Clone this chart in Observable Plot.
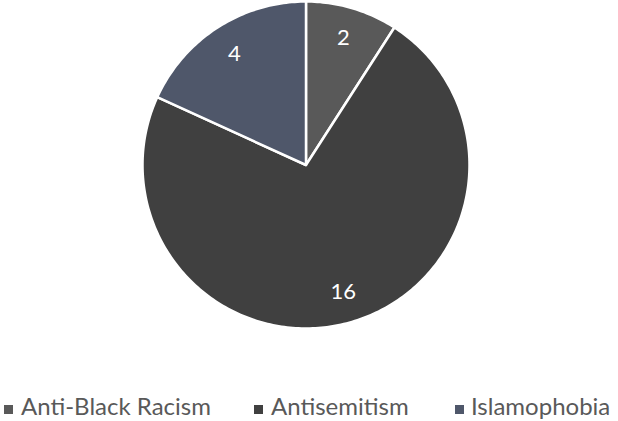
<!DOCTYPE html>
<html><head><meta charset="utf-8">
<script src="https://cdn.jsdelivr.net/npm/d3@7"></script>
<script src="https://cdn.jsdelivr.net/npm/@observablehq/plot@0.6"></script>
<style>
body{margin:0;background:#fff;font-family:Lato,"Open Sans",sans-serif}
#wrap{position:relative;width:618px;height:421px;overflow:hidden}
#legend{position:absolute;left:0;top:392px;width:618px;height:29px}
.item{position:absolute;top:0;font-size:24px;line-height:1.2;color:#595959;white-space:nowrap}
.sw{position:absolute;top:13px;width:9px;height:9px}
</style>
</head><body>
<div id="wrap"><div id="chart"></div><div id="legend"></div></div>
<script>
const categories = ["Anti-Black Racism", "Antisemitism", "Islamophobia"];
const values = [2, 16, 4];
const colors = ["#595959", "#404040", "#4f576a"];
const legendSwatchX = [4, 254, 455];
const legendTextX = [21, 271, 471];

const data = categories.map((c, i) => ({cat: c, value: values[i]}));
const arcs = d3.pie().sort(null).value(d => d.value)(data);

const points = [];
const labels = [];
arcs.forEach(a => {
  const cat = a.data.cat;
  const steps = Math.max(2, Math.ceil((a.endAngle - a.startAngle) / (Math.PI / 180)));
  points.push({cat, x: 0, y: 0});
  for (let i = 0; i <= steps; i++) {
    const t = a.startAngle + (a.endAngle - a.startAngle) * i / steps;
    points.push({cat, x: Math.sin(t), y: Math.cos(t)});
  }
  points.push({cat, x: 0, y: 0});
  const mid = (a.startAngle + a.endAngle) / 2;
  labels.push({cat, x: 0.81 * Math.sin(mid), y: 0.81 * Math.cos(mid), text: String(a.data.value)});
});

const chart = Plot.plot({
  width: 618,
  height: 330,
  marginLeft: 142,
  marginRight: 149,
  marginTop: 1,
  marginBottom: 2,
  style: {background: "white", fontFamily: "Lato, Open Sans, sans-serif"},
  x: {domain: [-1, 1], axis: null},
  y: {domain: [-1, 1], axis: null},
  color: {domain: categories, range: colors},
  marks: [
    Plot.line(points, {x: "x", y: "y", z: "cat", fill: "cat", stroke: "white", strokeWidth: 2.5, strokeLinejoin: "round"}),
    Plot.text(labels, {x: "x", y: "y", text: "text", fill: "white", fontSize: 22})
  ]
});
document.getElementById("chart").appendChild(chart);

const legend = document.getElementById("legend");
categories.forEach((c, i) => {
  const sw = document.createElement("div");
  sw.className = "sw";
  sw.style.left = legendSwatchX[i] + "px";
  sw.style.background = colors[i];
  legend.appendChild(sw);
  const item = document.createElement("div");
  item.className = "item";
  item.style.left = legendTextX[i] + "px";
  item.textContent = c;
  legend.appendChild(item);
});
</script>
</body></html>
